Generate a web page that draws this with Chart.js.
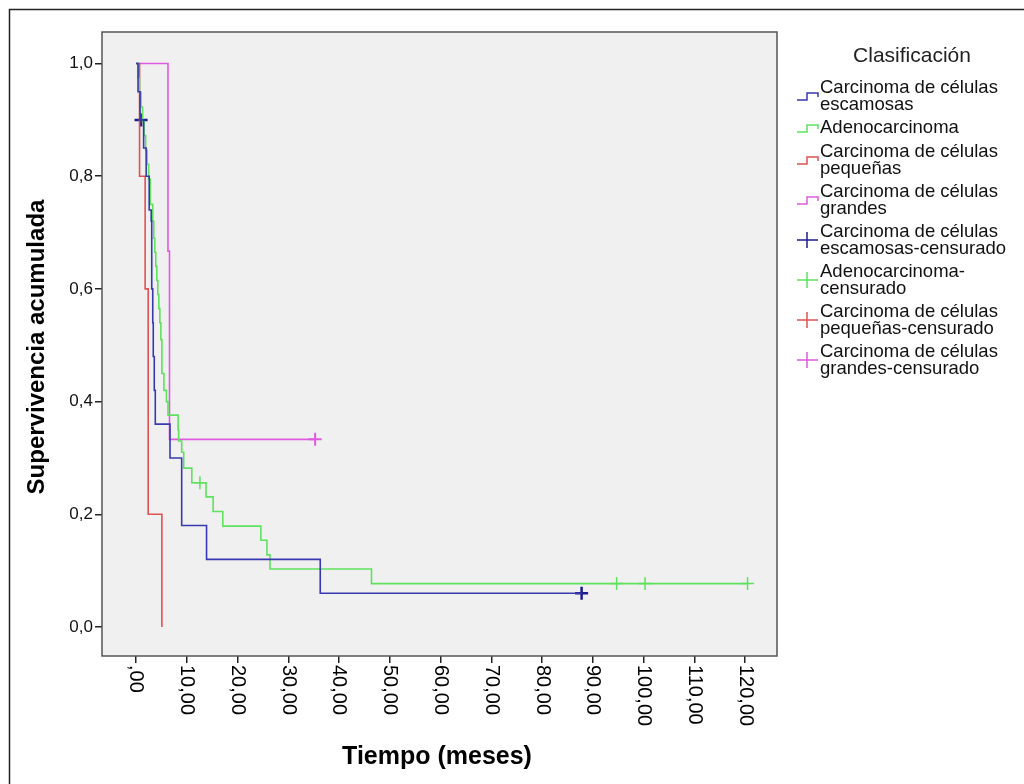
<!DOCTYPE html>
<html>
<head>
<meta charset="utf-8">
<script src="https://cdn.jsdelivr.net/npm/chart.js@4"></script>
<style>
  body { margin: 0; background: #fff; }
  #wrap { width: 1024px; height: 784px; }
</style>
</head>
<body>
<div id="wrap"><canvas id="canva" width="1024" height="784"></canvas></div>
<script>
// eje x (meses) y eje y
var xTickVals = [0, 10, 20, 30, 40, 50, 60, 70, 80, 90, 100, 110, 120];
var xTickLabels = [',00', '10,00', '20,00', '30,00', '40,00', '50,00', '60,00', '70,00', '80,00', '90,00', '100,00', '110,00', '120,00'];
var yTickVals = [0, 0.2, 0.4, 0.6, 0.8, 1.0];
var yTickLabels = ['0,0', '0,2', '0,4', '0,6', '0,8', '1,0'];

// curvas de supervivencia (tiempo en meses, supervivencia acumulada)
var escTime = [0, 0.4, 0.8, 1.5, 2.0, 2.6, 3.0, 3.1, 3.3, 3.4, 3.6, 3.8, 6.7, 9.0, 13.9, 36.3, 87.8];
var escSurv = [1.0, 0.95, 0.90, 0.85, 0.80, 0.74, 0.72, 0.60, 0.54, 0.48, 0.42, 0.36, 0.30, 0.18, 0.12, 0.06, 0.06];

var adenoTime = [0, 0.4, 0.7, 1.0, 1.3, 1.6, 1.9, 2.2, 2.5, 2.8, 3.3, 3.5, 3.7, 3.9, 4.1, 4.3, 4.5, 4.7, 4.9, 5.1, 5.5, 6.0, 6.3, 8.3, 8.4, 9.0, 9.4, 11.0, 13.8, 15.2, 17.1, 24.6, 25.8, 26.4, 46.4, 120.5];
var adenoSurv = [1.0, 0.974, 0.949, 0.923, 0.897, 0.872, 0.846, 0.821, 0.795, 0.75, 0.72, 0.69, 0.665, 0.64, 0.615, 0.59, 0.565, 0.54, 0.51, 0.45, 0.42, 0.40, 0.376, 0.35, 0.33, 0.31, 0.282, 0.256, 0.231, 0.205, 0.179, 0.154, 0.128, 0.103, 0.077, 0.077];

var pequeTime = [0, 0.7, 1.8, 2.4, 2.4, 5.1];
var pequeSurv = [1.0, 0.8, 0.6, 0.4, 0.2, 0.0];

var grandTime = [0, 6.3, 6.6, 35.3];
var grandSurv = [1.0, 0.667, 0.333, 0.333];

// casos censurados
var escCensTime = [1.0, 87.8];
var escCensSurv = [0.90, 0.06];
var adenoCensTime = [12.6, 94.7, 100.3, 120.5];
var adenoCensSurv = [0.256, 0.077, 0.077, 0.077];
var pequeCensTime = [];
var pequeCensSurv = [];
var grandCensTime = [35.3];
var grandCensSurv = [0.333];

var legendTitle = 'Clasificación';
var legendLabels = [
  ['Carcinoma de células', 'escamosas'],
  ['Adenocarcinoma'],
  ['Carcinoma de células', 'pequeñas'],
  ['Carcinoma de células', 'grandes'],
  ['Carcinoma de células', 'escamosas-censurado'],
  ['Adenocarcinoma-', 'censurado'],
  ['Carcinoma de células', 'pequeñas-censurado'],
  ['Carcinoma de células', 'grandes-censurado']
];
var xTitle = 'Tiempo (meses)';
var yTitle = 'Supervivencia acumulada';

var azul = '#3838b0', verde = '#5ee25e', rojo = '#e05252', rosa = '#e05ae0';
var azulCruz = '#1c1c8c';

function pts(t, s) {
  return t.map(function (v, i) { return { x: v, y: s[i] }; });
}

function curva(label, t, s, color) {
  return {
    type: 'line', label: label, data: pts(t, s), stepped: true,
    borderColor: color, borderWidth: 1.6, pointRadius: 0, fill: false
  };
}
function cruces(label, t, s, color, w) {
  return {
    type: 'scatter', label: label, data: pts(t, s),
    pointStyle: 'cross', pointRadius: 6.5, borderColor: color,
    backgroundColor: color, borderWidth: w, pointHoverRadius: 6.5
  };
}

var FONT = "'Liberation Sans', Arial, sans-serif";

var marco = {
  id: 'marco',
  beforeDraw: function (chart) {
    var ctx = chart.ctx, a = chart.chartArea;
    ctx.save();
    ctx.fillStyle = '#fff';
    ctx.fillRect(0, 0, chart.width, chart.height);
    ctx.fillStyle = '#f0f0f0';
    ctx.fillRect(a.left, a.top, a.right - a.left, a.bottom - a.top);
    ctx.restore();
  },
  afterDraw: function (chart) {
    var ctx = chart.ctx, a = chart.chartArea, xs = chart.scales.x;
    ctx.save();
    // marco exterior
    ctx.strokeStyle = '#222';
    ctx.lineWidth = 1.5;
    ctx.strokeRect(9.5, 9.5, 1040, 800);
    // borde del area
    ctx.strokeStyle = '#555';
    ctx.lineWidth = 1.5;
    ctx.strokeRect(a.left, a.top, a.right - a.left, a.bottom - a.top);

    // etiquetas del eje x giradas
    ctx.fillStyle = '#000';
    ctx.font = '20px ' + FONT;
    ctx.textAlign = 'left';
    ctx.textBaseline = 'middle';
    xTickVals.forEach(function (v, i) {
      var px = xs.getPixelForValue(v);
      ctx.save();
      ctx.translate(px, a.bottom + 9);
      ctx.rotate(Math.PI / 2);
      ctx.fillText(xTickLabels[i], 0, 0);
      ctx.restore();
    });

    // titulos
    ctx.textAlign = 'center';
    ctx.textBaseline = 'middle';
    ctx.font = 'bold 25px ' + FONT;
    ctx.fillText(xTitle, 437, 757);
    ctx.font = 'bold 24px ' + FONT;
    ctx.save();
    ctx.translate(37, 347);
    ctx.rotate(-Math.PI / 2);
    ctx.fillText(yTitle, 0, 0);
    ctx.restore();

    // leyenda
    ctx.font = '21px ' + FONT;
    ctx.fillStyle = '#222';
    ctx.fillText(legendTitle, 912, 56);
    ctx.font = '18.5px ' + FONT;
    ctx.textAlign = 'left';
    var y = 88;
    chart.data.datasets.forEach(function (ds, i) {
      var lines = legendLabels[i];
      var iy = lines.length > 1 ? y + 8 : y;
      ctx.strokeStyle = ds.borderColor;
      ctx.lineWidth = 1.5;
      ctx.beginPath();
      if (ds.type === 'line') {
        ctx.moveTo(797, iy + 4); ctx.lineTo(807, iy + 4); ctx.lineTo(807, iy - 3);
        ctx.lineTo(818, iy - 3); ctx.lineTo(818, iy + 1);
      } else {
        ctx.moveTo(797, iy); ctx.lineTo(818, iy);
        ctx.moveTo(807, iy - 8); ctx.lineTo(807, iy + 8);
      }
      ctx.stroke();
      ctx.fillStyle = '#111';
      lines.forEach(function (l, j) { ctx.fillText(l, 820, y + j * 16.5); });
      y += lines.length > 1 ? 40 : 24;
    });
    ctx.restore();
  }
};

new Chart(document.getElementById('canva'), {
  data: {
    datasets: [
      curva('Carcinoma de células escamosas', escTime, escSurv, azul),
      curva('Adenocarcinoma', adenoTime, adenoSurv, verde),
      curva('Carcinoma de células pequeñas', pequeTime, pequeSurv, rojo),
      curva('Carcinoma de células grandes', grandTime, grandSurv, rosa),
      cruces('Carcinoma de células escamosas-censurado', escCensTime, escCensSurv, azulCruz, 2.5),
      cruces('Adenocarcinoma-censurado', adenoCensTime, adenoCensSurv, verde, 1.5),
      cruces('Carcinoma de células pequeñas-censurado', pequeCensTime, pequeCensSurv, rojo, 1.5),
      cruces('Carcinoma de células grandes-censurado', grandCensTime, grandCensSurv, rosa, 2)
    ]
  },
  options: {
    responsive: false,
    animation: false,
    events: [],
    layout: { padding: { top: 32, right: 247, left: 0, bottom: 0 } },
    plugins: { legend: { display: false }, tooltip: { enabled: false } },
    scales: {
      x: {
        type: 'linear', min: -6.7, max: 126.3,
        afterBuildTicks: function (s) { s.ticks = xTickVals.map(function (v) { return { value: v }; }); },
        afterFit: function (s) { s.height = 128; },
        ticks: { display: false },
        grid: { drawOnChartArea: false, drawTicks: true, tickLength: 7, color: '#222', lineWidth: 1.5 },
        border: { display: false }
      },
      y: {
        type: 'linear', min: -0.0515, max: 1.056,
        afterBuildTicks: function (s) { s.ticks = yTickVals.map(function (v) { return { value: v }; }); },
        afterFit: function (s) { s.width = 102; },
        ticks: {
          color: '#111', padding: 2,
          font: { family: FONT, size: 17 },
          callback: function (v) { var i = yTickVals.indexOf(v); return i >= 0 ? yTickLabels[i] : ''; }
        },
        grid: { drawOnChartArea: false, drawTicks: true, tickLength: 7, color: '#222', lineWidth: 1.5 },
        border: { display: false }
      }
    }
  },
  plugins: [marco]
});
</script>
</body>
</html>
